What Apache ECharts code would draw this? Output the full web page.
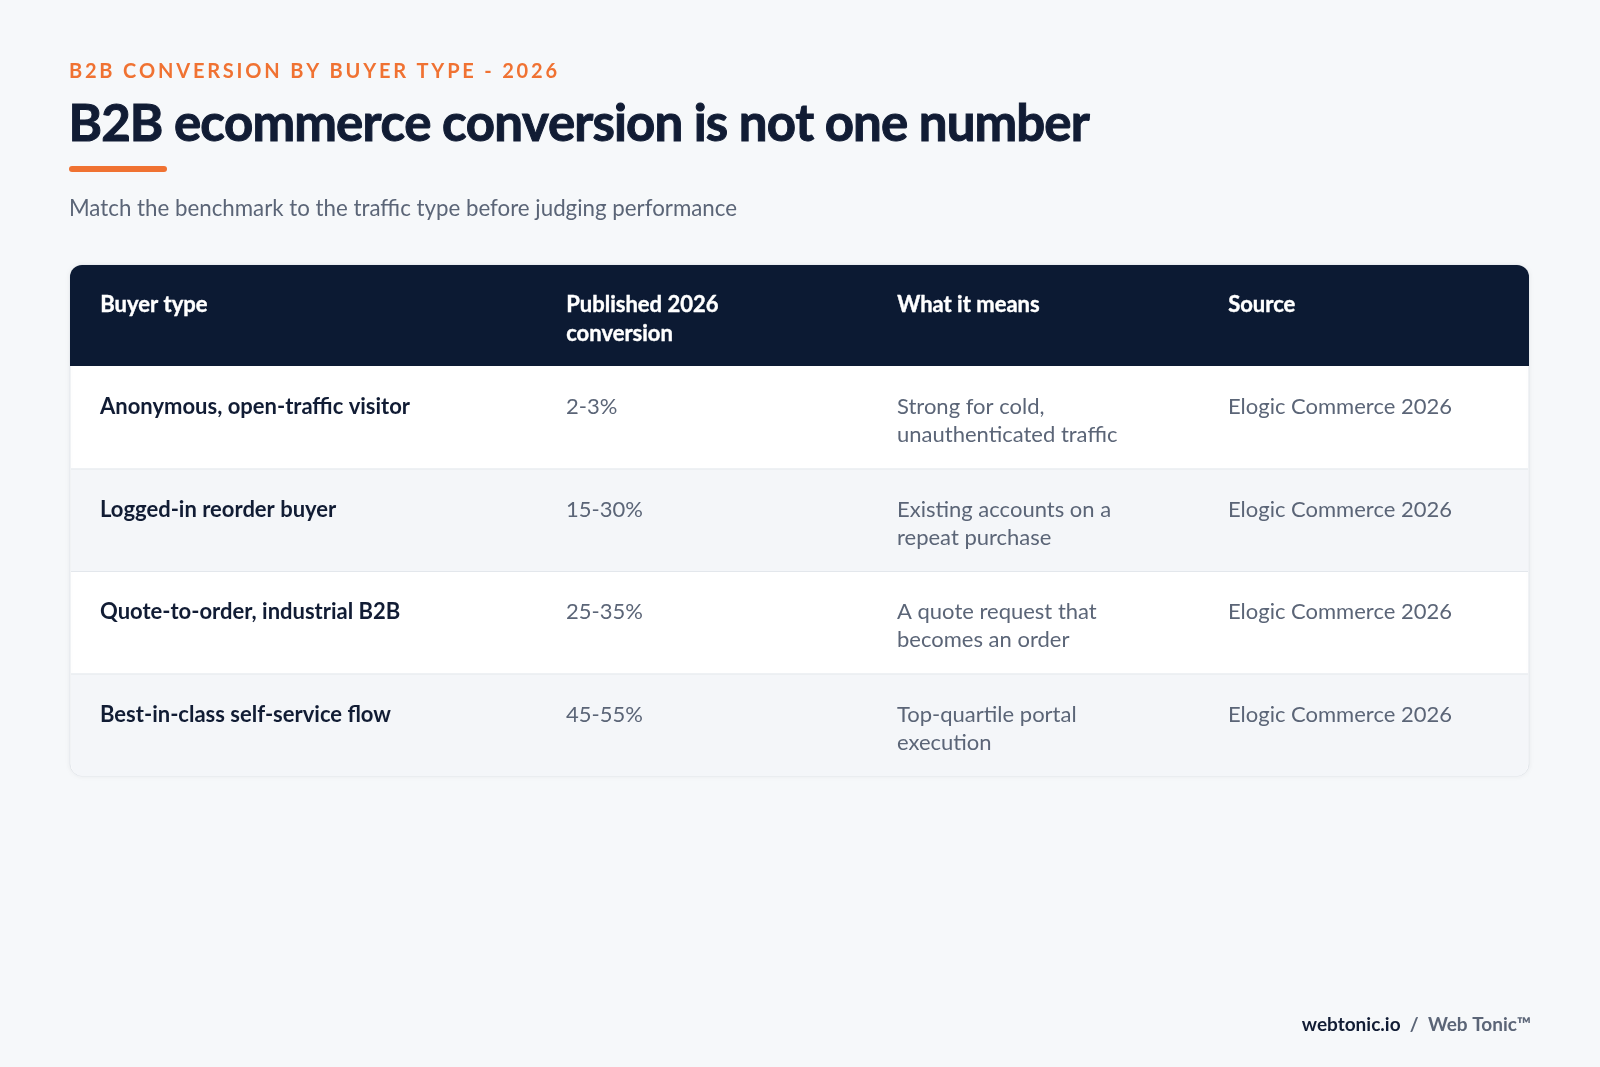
<!DOCTYPE html>
<html><head><meta charset="utf-8">
<script src="https://cdn.jsdelivr.net/npm/echarts@6/dist/echarts.min.js"></script>
<style>html,body{margin:0;background:#f6f8fa}#c{width:1600px;height:1067px}</style>
</head><body><div id="c"></div>
<script>
const headers = ["Buyer type", "Published 2026\nconversion", "What it means", "Source"];
const buyerTypes = ["Anonymous, open-traffic visitor", "Logged-in reorder buyer", "Quote-to-order, industrial B2B", "Best-in-class self-service flow"];
const conversion = ["2-3%", "15-30%", "25-35%", "45-55%"];
const meanings = ["Strong for cold,\nunauthenticated traffic", "Existing accounts on a\nrepeat purchase", "A quote request that\nbecomes an order", "Top-quartile portal\nexecution"];
const sources = ["Elogic Commerce 2026", "Elogic Commerce 2026", "Elogic Commerce 2026", "Elogic Commerce 2026"];

const F = 'Lato, "Noto Sans", sans-serif';
const chart = echarts.init(document.getElementById('c'));
const ctx = document.createElement('canvas').getContext('2d');
const L = 70, R = 1529, T = 265, HH = 101, RH = 102.5;
const colX = [100, 566, 897, 1228];
const els = [];
function spaced(text, x, y, font, fill, sp, stroke){
  ctx.font = font;
  for (const ch of text){
    const st = {text:ch, font:font, fill:fill};
    if (stroke) { st.stroke = fill; st.lineWidth = stroke; }
    els.push({type:'text', left:x, top:y, style:st});
    x += ctx.measureText(ch).width + sp;
  }
}
spaced('B2B CONVERSION BY BUYER TYPE - 2026', 69, 62, 'bold 20px '+F, '#f07232', 2.8);
spaced('B2B ecommerce conversion is not one number', 68, 99, 'bold 51px '+F, '#111c34', -0.9, 1);
els.push({type:'rect', shape:{x:69,y:166,width:98,height:6,r:3}, style:{fill:'#f07232'}});
els.push({type:'text', left:69, top:198, style:{text:'Match the benchmark to the traffic type before judging performance', font:'22.3px '+F, fill:'#5b6577'}});
const tableH = HH + RH*buyerTypes.length;
els.push({type:'rect', shape:{x:L,y:T,width:R-L,height:tableH,r:12}, style:{fill:'#ffffff', stroke:'#e3e7ec', lineWidth:1, shadowBlur:6, shadowColor:'rgba(0,0,0,0.05)'}});
els.push({type:'rect', shape:{x:L,y:T,width:R-L,height:HH,r:[12,12,0,0]}, style:{fill:'#0c1a33'}});
headers.forEach((h,i)=>els.push({type:'text', left:colX[i], top:T+25, style:{text:h, font:'bold 22px '+F, fill:'#ffffff', stroke:'#ffffff', lineWidth:0.4, lineHeight:29}}));
buyerTypes.forEach((b,r)=>{
  const y = T+HH+RH*r;
  if (r%2===1) els.push({type:'rect', shape:{x:L+1,y:y,width:R-L-2,height:RH, r: r===buyerTypes.length-1?[0,0,12,12]:0}, style:{fill:'#f4f6f9'}});
  if (r>0) els.push({type:'rect', shape:{x:L+1,y:y,width:R-L-2,height:1}, style:{fill:'#e3e7ec'}});
  const cells=[b, conversion[r], meanings[r], sources[r]];
  cells.forEach((t,i)=>els.push({type:'text', left:colX[i], top:y+27, style:{text:t, font:(i===0?'bold ':'')+'22px '+F, fill:i===0?'#111c34':'#5b6577', lineHeight:28}}));
});
els.push({type:'text', right:69, top:1015, style:{rich:{a:{font:'bold 19px '+F, fill:'#111c34'}, b:{font:'bold 19px '+F, fill:'#5b6577'}}, text:'{a|webtonic.io}{b|  /  Web Tonic™}'}});
chart.setOption({backgroundColor:'#f6f8fa', graphic:{elements:els}});
</script></body></html>
